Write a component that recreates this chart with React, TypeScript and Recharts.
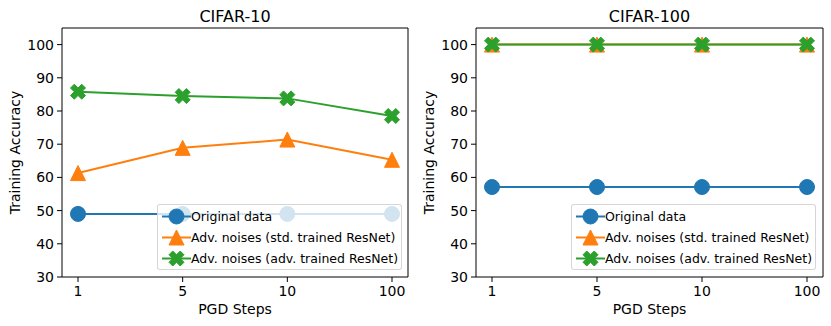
import { Legend, Line, LineChart, XAxis, YAxis } from "recharts"

const steps = ["1", "5", "10", "100"]
const yTicks = [30, 40, 50, 60, 70, 80, 90, 100]

// CIFAR-10
const c10Original = [49, 49, 49, 49]
const c10StdNoise = [61.3, 68.9, 71.4, 65.3]
const c10AdvNoise = [85.8, 84.5, 83.8, 78.5]

// CIFAR-100
const c100Original = [57.1, 57.1, 57.1, 57.1]
const c100StdNoise = [100, 100, 100, 100]
const c100AdvNoise = [100, 100, 100, 100]

const seriesKeys = ["original", "std", "adv"] as const
const seriesNames: Record<string, string> = {
  original: "Original data",
  std: "Adv. noises (std. trained ResNet)",
  adv: "Adv. noises (adv. trained ResNet)",
}
const colors: Record<string, string> = {
  original: "#1f77b4",
  std: "#ff7f0e",
  adv: "#2ca02c",
}

const FONT = "DejaVu Sans"

const buildRows = (original: number[], std: number[], adv: number[]) =>
  steps.map((step, i) => ({ step, original: original[i], std: std[i], adv: adv[i] }))

// matplotlib "X" (filled) marker outline
const xShape = [
  [-1, -2], [0, -1], [1, -2], [2, -1], [1, 0], [2, 1],
  [1, 2], [0, 1], [-1, 2], [-2, 1], [-1, 0], [-2, -1],
]

const Marker = ({ kind, cx, cy, color }: { kind: string; cx: number; cy: number; color: string }) => {
  const h = 7.5
  if (kind === "original") {
    return <circle cx={cx} cy={cy} r={h} fill={color} stroke={color} strokeWidth={1} />
  }
  if (kind === "std") {
    return (
      <polygon
        points={`${cx},${cy - h} ${cx - h},${cy + h} ${cx + h},${cy + h}`}
        fill={color}
        stroke={color}
        strokeWidth={1}
      />
    )
  }
  return (
    <polygon
      points={xShape.map(([x, y]) => `${cx + (x * h) / 2},${cy + (y * h) / 2}`).join(" ")}
      fill={color}
      stroke={color}
      strokeWidth={1}
    />
  )
}

const LegendBox = () => (
  <div
    style={{
      background: "rgba(255,255,255,0.8)",
      border: "1px solid rgba(204,204,204,0.8)",
      borderRadius: 3,
      padding: "1px 0 0 4px",
      width: 245,
      boxSizing: "border-box",
      fontFamily: FONT,
      fontSize: 12.5,
      color: "#000",
    }}
  >
    {seriesKeys.map((key) => (
      <div key={key} style={{ display: "flex", alignItems: "center", height: 21, whiteSpace: "nowrap" }}>
        <svg width={29} height={21} style={{ flex: "none" }}>
          <line x1={0} x2={29} y1={10.5} y2={10.5} stroke={colors[key]} strokeWidth={2} />
          <Marker kind={key} cx={14.5} cy={10.5} color={colors[key]} />
        </svg>
        <span>{seriesNames[key]}</span>
      </div>
    ))}
  </div>
)

interface PanelProps {
  title: string
  rows: ReturnType<typeof buildRows>
  width: number
  marginLeft: number
  marginRight: number
  legendLeft: number
}

const Panel = ({ title, rows, width, marginLeft, marginRight, legendLeft }: PanelProps) => (
  <LineChart
    width={width}
    height={326}
    data={rows}
    // top / right axes are 1px thick, so the plot box still starts at y=28
    margin={{ top: 27, right: marginRight - 1, left: marginLeft, bottom: 9 }}
    style={{ fontFamily: FONT }}
  >
    <XAxis
      dataKey="step"
      type="category"
      interval={0}
      padding={{ left: 16, right: 16 }}
      height={40}
      tickSize={5}
      tickMargin={4}
      stroke="#000"
      tick={{ fill: "#000", fontSize: 14, fontFamily: FONT }}
      label={{ value: "PGD Steps", position: "insideBottom", offset: 3, fill: "#000", fontSize: 14, fontFamily: FONT }}
    />
    <XAxis
      xAxisId="top"
      dataKey="step"
      type="category"
      orientation="top"
      height={1}
      padding={{ left: 16, right: 16 }}
      tick={false}
      tickLine={false}
      stroke="#000"
      label={{ value: title, position: "top", offset: 5, fill: "#000", fontSize: 16, fontFamily: FONT }}
    />
    <YAxis
      type="number"
      domain={[30, 105]}
      ticks={yTicks}
      interval={0}
      width={50}
      tickSize={5}
      tickMargin={3}
      stroke="#000"
      tick={{ fill: "#000", fontSize: 14, fontFamily: FONT }}
      label={{
        value: "Training Accuracy",
        angle: -90,
        position: "insideLeft",
        offset: 3,
        fill: "#000",
        fontSize: 14,
        fontFamily: FONT,
        style: { textAnchor: "middle" },
      }}
    />
    <YAxis
      yAxisId="right"
      orientation="right"
      type="number"
      domain={[30, 105]}
      width={1}
      tick={false}
      tickLine={false}
      stroke="#000"
    />
    {/* invisible series tied to the frame axes (top / right) */}
    <Line
      xAxisId="top"
      yAxisId="right"
      dataKey="original"
      stroke="none"
      dot={false}
      activeDot={false}
      legendType="none"
      isAnimationActive={false}
    />
    {seriesKeys.map((key) => (
      <Line
        key={key}
        dataKey={key}
        name={seriesNames[key]}
        stroke={colors[key]}
        strokeWidth={2}
        isAnimationActive={false}
        activeDot={false}
        dot={(p: any) => <Marker key={`${key}-${p.index}`} kind={key} cx={p.cx} cy={p.cy} color={colors[key]} />}
      />
    ))}
    <Legend
      layout="vertical"
      align="center"
      verticalAlign="middle"
      content={() => <LegendBox />}
      wrapperStyle={{ left: legendLeft, top: 204, width: 245, height: 66 }}
    />
  </LineChart>
)

export default function App() {
  return (
    <div style={{ position: "absolute", left: 0, top: 0, width: 831, height: 326, background: "#fff" }}>
      <div style={{ position: "absolute", left: 0, top: 0 }}>
        <Panel
          title="CIFAR-10"
          rows={buildRows(c10Original, c10StdNoise, c10AdvNoise)}
          width={415}
          marginLeft={12}
          marginRight={7}
          legendLeft={157}
        />
      </div>
      <div style={{ position: "absolute", left: 415, top: 0 }}>
        <Panel
          title="CIFAR-100"
          rows={buildRows(c100Original, c100StdNoise, c100AdvNoise)}
          width={416}
          marginLeft={11}
          marginRight={8}
          legendLeft={156}
        />
      </div>
    </div>
  )
}
